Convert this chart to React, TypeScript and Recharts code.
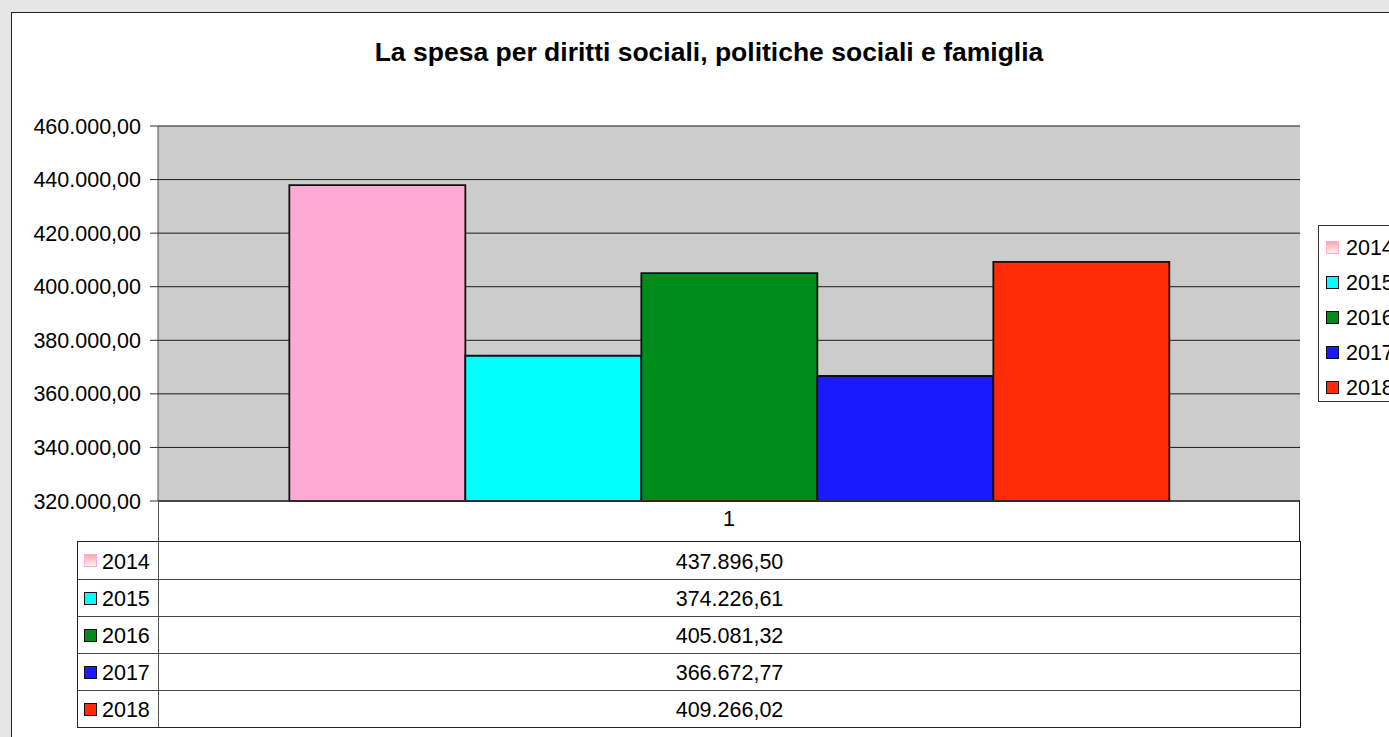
import React from 'react';
import { BarChart, Bar, XAxis, YAxis, CartesianGrid } from 'recharts';

const categories = ['1'];
const years = ['2014', '2015', '2016', '2017', '2018'];
const values = [437896.5, 374226.61, 405081.32, 366672.77, 409266.02];
const colors = ['#ffaad4', '#00ffff', '#008c1a', '#1a1aff', '#ff2a08'];
const yTicks = [320000, 340000, 360000, 380000, 400000, 420000, 440000, 460000];
const title = 'La spesa per diritti sociali, politiche sociali e famiglia';

function fmt(v: number): string {
  const fixed = Number(v).toFixed(2);
  const [i, d] = fixed.split('.');
  return i.replace(/\B(?=(\d{3})+(?!\d))/g, '.') + ',' + d;
}

const data = categories.map((c) => {
  const row: Record<string, any> = { name: c };
  years.forEach((y, i) => {
    row['y' + y] = values[i];
  });
  return row;
});

const FONT = '"Liberation Sans", Arial, sans-serif';
const FS = 21.5;

function Marker({ i }: { i: number }) {
  const first = i === 0;
  return (
    <span
      style={{
        display: 'inline-block',
        width: 11,
        height: 11,
        boxSizing: 'content-box',
        background: first ? 'linear-gradient(#ffa8a8, #fff0f0)' : colors[i],
        border: first ? '1px solid #ffaad4' : '1.5px solid #111',
      }}
    />
  );
}

export default function App() {
  return (
    <div
      style={{
        position: 'fixed',
        left: 0,
        top: 0,
        width: 1389,
        height: 737,
        overflow: 'hidden',
        background: '#e6e6e6',
        fontFamily: FONT,
      }}
    >
      <div
        style={{
          position: 'absolute',
          left: 11,
          top: 12,
          width: 1420,
          height: 800,
          background: '#fff',
          border: '1px solid #222',
        }}
      />
      <div
        style={{
          position: 'absolute',
          left: 0,
          width: 1418,
          top: 37,
          textAlign: 'center',
          fontWeight: 'bold',
          fontSize: 26.5,
          color: '#000',
        }}
      >
        {title}
      </div>
      <div style={{ position: 'absolute', left: 0, top: 0 }}>
        <BarChart
          width={1389}
          height={737}
          data={data}
          margin={{ top: 126, right: 89, bottom: 196, left: 0 }}
          barCategoryGap="11.5%"
          barGap={0}
        >
          <CartesianGrid fill="#cccccc" vertical={false} stroke="#1a1a1a" />
          <XAxis
            dataKey="name"
            height={40}
            axisLine={{ stroke: '#333', strokeWidth: 1.5 }}
            tickLine={false}
            tick={{ fill: '#000', fontSize: FS, fontFamily: FONT }}
            tickMargin={4}
          />
          <YAxis
            width={158}
            domain={[320000, 460000]}
            ticks={yTicks}
            tickFormatter={fmt}
            interval={0}
            tickSize={8}
            tickMargin={9}
            axisLine={{ stroke: '#555' }}
            tickLine={{ stroke: '#333' }}
            tick={{ fill: '#000', fontSize: FS, fontFamily: FONT }}
          />
          <YAxis
            yAxisId="r"
            orientation="right"
            width={0}
            domain={[320000, 460000]}
            tick={false}
            tickLine={false}
            axisLine={{ stroke: '#888', strokeWidth: 1.5 }}
          />
          {years.map((y, i) => (
            <Bar
              key={y}
              dataKey={'y' + y}
              name={y}
              fill={colors[i]}
              stroke="#111"
              strokeWidth={1.8}
              isAnimationActive={false}
            />
          ))}
        </BarChart>
      </div>
      {/* category cell borders below the axis */}
      <div
        style={{
          position: 'absolute',
          left: 158,
          top: 501,
          width: 1142,
          height: 40,
          borderLeft: '1px solid #555',
          borderRight: '1.5px solid #222',
          boxSizing: 'border-box',
          pointerEvents: 'none',
        }}
      />
      {/* data table */}
      <div
        style={{
          position: 'absolute',
          left: 77,
          top: 541,
          width: 1224,
          border: '1px solid #222',
          borderRight: '1.5px solid #111',
          boxSizing: 'border-box',
          background: '#fff',
        }}
      >
        {years.map((y, i) => (
          <div
            key={y}
            style={{
              display: 'flex',
              height: 37,
              borderTop: i === 0 ? 'none' : '1px solid #444',
              boxSizing: 'border-box',
            }}
          >
            <div
              style={{
                width: 81,
                borderRight: '1px solid #555',
                display: 'flex',
                alignItems: 'center',
                paddingLeft: 6,
                boxSizing: 'border-box',
                fontSize: FS,
                gap: 5,
              }}
            >
              <Marker i={i} />
              <span style={{ lineHeight: 1, position: 'relative', top: 2 }}>{y}</span>
            </div>
            <div
              style={{
                flex: 1,
                display: 'flex',
                alignItems: 'center',
                justifyContent: 'center',
                fontSize: FS,
              }}
            >
              <span style={{ lineHeight: 1, position: 'relative', top: 2 }}>{fmt(values[i])}</span>
            </div>
          </div>
        ))}
      </div>
      {/* legend */}
      <div
        style={{
          position: 'absolute',
          left: 1318,
          top: 225,
          width: 120,
          height: 177,
          border: '1px solid #333',
          background: '#fff',
          boxSizing: 'border-box',
          paddingTop: 4,
        }}
      >
        {years.map((y, i) => (
          <div
            key={y}
            style={{
              height: 35,
              display: 'flex',
              alignItems: 'center',
              paddingLeft: 7,
              gap: 7,
              fontSize: FS,
            }}
          >
            <Marker i={i} />
            <span style={{ lineHeight: 1, position: 'relative', top: 1 }}>{y}</span>
          </div>
        ))}
      </div>
    </div>
  );
}
